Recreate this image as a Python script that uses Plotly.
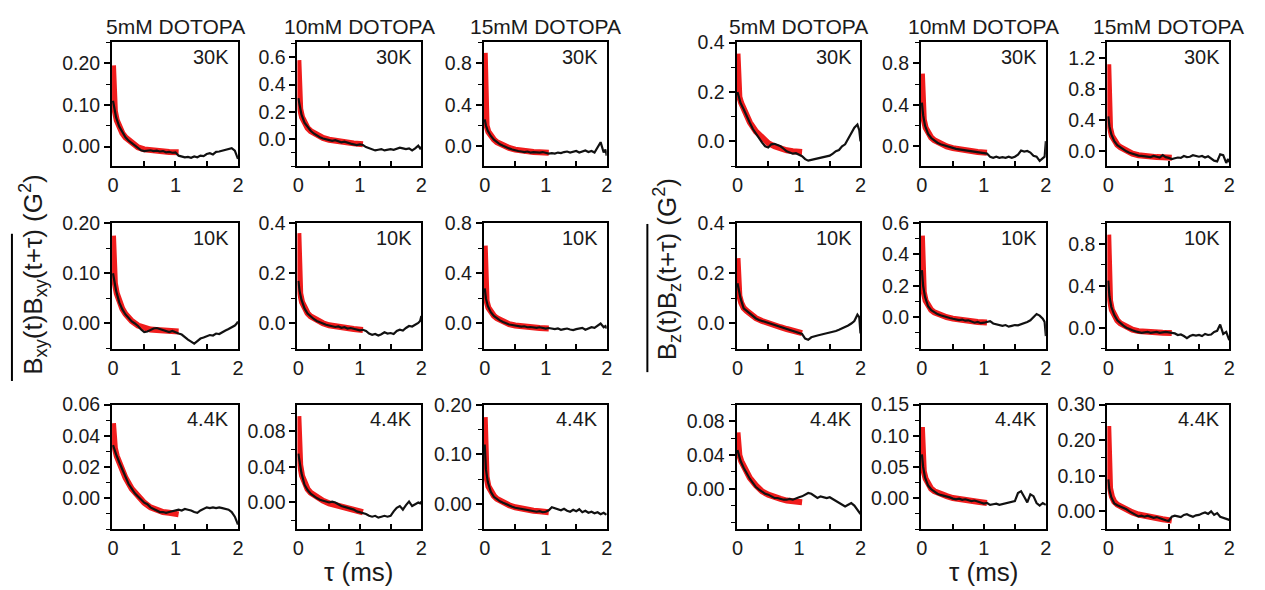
import plotly.graph_objects as go

# ---------------- data ----------------
T_EXP = [0, 0.02, 0.05, 0.1, 0.15, 0.2, 0.25,
         0.3, 0.35, 0.4, 0.45, 0.5, 0.55, 0.6, 0.65, 0.7, 0.75,
         0.8, 0.85, 0.9, 0.95, 1.0, 1.05, 1.1, 1.15, 1.2, 1.25,
         1.3, 1.35, 1.4, 1.45, 1.5, 1.55, 1.6, 1.65, 1.7, 1.75,
         1.8, 1.85, 1.9, 1.95, 1.98, 2.0]
T_FIT = [0, 0.01, 0.03, 0.06, 0.1, 0.15, 0.2, 0.3, 0.4, 0.5, 0.6, 0.7, 0.8, 0.9, 1.05]

CONCENTRATIONS = ["5mM DOTOPA", "10mM DOTOPA", "15mM DOTOPA"]
TEMPERATURES = ["30K", "10K", "4.4K"]
X_TICKS = [0, 1, 2]

# Bxy correlation, measured
BXY_5MM_30K = [0.11, 0.09, 0.07, 0.048, 0.033, 0.022, 0.014,
               0.008, 0.003, -0.004, -0.009, -0.011, -0.01, -0.009, -0.011, -0.01, -0.012,
               -0.011, -0.014, -0.013, -0.015, -0.014, -0.022, -0.024, -0.026, -0.025, -0.027,
               -0.024, -0.026, -0.022, -0.023, -0.018, -0.016, -0.019, -0.013, -0.012, -0.01,
               -0.009, -0.006, -0.004, -0.01, -0.02, -0.03]
BXY_10MM_30K = [0.30, 0.24, 0.18, 0.12, 0.085, 0.06, 0.04,
                0.025, 0.012, 0.003, -0.005, -0.01, -0.015, -0.01, -0.02, -0.025, -0.02,
                -0.03, -0.035, -0.04, -0.045, -0.04, -0.045, -0.06, -0.07, -0.075, -0.085,
                -0.08, -0.075, -0.085, -0.08, -0.075, -0.08, -0.07, -0.065, -0.07, -0.075,
                -0.07, -0.085, -0.07, -0.05, -0.07, -0.06]
BXY_15MM_30K = [0.26, 0.2, 0.15, 0.1, 0.065, 0.04, 0.02,
                0.005, -0.01, -0.02, -0.03, -0.04, -0.045, -0.05, -0.055, -0.05, -0.06,
                -0.055, -0.06, -0.06, -0.055, -0.06, -0.07, -0.065, -0.07, -0.06, -0.065,
                -0.055, -0.05, -0.06, -0.05, -0.045, -0.06, -0.05, -0.04, -0.055, -0.045,
                -0.06, -0.01, 0.04, -0.06, -0.03, -0.09]
BXY_5MM_10K = [0.10, 0.085, 0.065, 0.042, 0.028, 0.018, 0.01,
               0.004, 0.0, -0.005, -0.012, -0.017, -0.016, -0.013, -0.01, -0.009, -0.011,
               -0.013, -0.016, -0.017, -0.015, -0.018, -0.02, -0.022, -0.028, -0.032, -0.036,
               -0.04, -0.035, -0.03, -0.028, -0.025, -0.023, -0.024, -0.02, -0.021, -0.017,
               -0.014, -0.011, -0.008, -0.004, 0.0, 0.004]
BXY_10MM_10K = [0.17, 0.13, 0.095, 0.06, 0.04, 0.027, 0.018,
                0.01, 0.004, 0.0, -0.005, -0.008, -0.01, -0.014, -0.012, -0.017, -0.015,
                -0.02, -0.018, -0.022, -0.025, -0.027, -0.025, -0.03, -0.04, -0.045, -0.042,
                -0.048, -0.043, -0.035, -0.04, -0.038, -0.042, -0.03, -0.025, -0.028, -0.018,
                -0.01, -0.012, -0.005, 0.002, 0.01, 0.03]
BXY_15MM_10K = [0.28, 0.2, 0.14, 0.09, 0.06, 0.04, 0.025,
                0.012, 0.0, -0.008, -0.012, -0.016, -0.02, -0.025, -0.022, -0.03, -0.028,
                -0.032, -0.035, -0.03, -0.038, -0.04, -0.036, -0.04, -0.045, -0.04, -0.05,
                -0.045, -0.04, -0.048, -0.052, -0.045, -0.04, -0.035, -0.05, -0.04, -0.03,
                -0.035, -0.02, 0.0, -0.03, -0.02, -0.04]
BXY_5MM_4K = [0.034, 0.031, 0.028, 0.023, 0.018, 0.013, 0.009,
              0.006, 0.003, 0.001, -0.001, -0.003, -0.004, -0.006, -0.007, -0.008, -0.009,
              -0.009, -0.0095, -0.009, -0.0085, -0.008, -0.0075, -0.008, -0.007, -0.0075, -0.008,
              -0.009, -0.0095, -0.008, -0.007, -0.006, -0.0065, -0.006, -0.0065, -0.006, -0.0065,
              -0.007, -0.0075, -0.009, -0.012, -0.015, -0.017]
BXY_10MM_4K = [0.055, 0.045, 0.033, 0.02, 0.014, 0.01, 0.007,
               0.005, 0.003, 0.002, 0.001, 0.0, 0.001, 0.0, -0.002, -0.004, -0.005,
               -0.006, -0.007, -0.008, -0.01, -0.011, -0.012, -0.013, -0.015, -0.016, -0.015,
               -0.017, -0.016, -0.015, -0.016, -0.015, -0.01, -0.006, -0.004, -0.008, -0.003,
               0.001, -0.004, -0.002, 0.0, -0.001, 0.001]
BXY_15MM_4K = [0.12, 0.07, 0.045, 0.025, 0.015, 0.01, 0.006,
               0.003, 0.0, -0.003, -0.005, -0.007, -0.008, -0.01, -0.011, -0.012, -0.013,
               -0.014, -0.015, -0.014, -0.016, -0.015, -0.012, -0.006, -0.008, -0.01, -0.012,
               -0.009, -0.013, -0.015, -0.011, -0.014, -0.01, -0.016, -0.013, -0.017, -0.015,
               -0.018, -0.016, -0.02, -0.017, -0.02, -0.019]

# Bxy correlation, fits
FIT_BXY_5MM_30K = [0.195, 0.12, 0.085, 0.063, 0.047, 0.032, 0.022, 0.008, -0.002, -0.007, -0.009, -0.011, -0.012, -0.013, -0.014]
FIT_BXY_10MM_30K = [0.58, 0.33, 0.22, 0.16, 0.115, 0.08, 0.058, 0.027, 0.007, -0.006, -0.015, -0.022, -0.028, -0.033, -0.04]
FIT_BXY_15MM_30K = [0.9, 0.35, 0.2, 0.14, 0.1, 0.065, 0.04, 0.008, -0.015, -0.032, -0.043, -0.05, -0.055, -0.058, -0.062]
FIT_BXY_5MM_10K = [0.175, 0.11, 0.08, 0.06, 0.043, 0.029, 0.019, 0.005, -0.004, -0.009, -0.012, -0.013, -0.014, -0.015, -0.016]
FIT_BXY_10MM_10K = [0.36, 0.19, 0.12, 0.085, 0.06, 0.041, 0.028, 0.011, 0.001, -0.007, -0.012, -0.016, -0.019, -0.022, -0.026]
FIT_BXY_15MM_10K = [0.62, 0.3, 0.18, 0.125, 0.09, 0.062, 0.042, 0.013, -0.005, -0.016, -0.024, -0.029, -0.033, -0.036, -0.04]
FIT_BXY_5MM_4K = [0.048, 0.037, 0.032, 0.027, 0.023, 0.018, 0.013, 0.006, 0.001, -0.003, -0.006, -0.008, -0.009, -0.0095, -0.0105]
FIT_BXY_10MM_4K = [0.097, 0.06, 0.042, 0.03, 0.021, 0.015, 0.011, 0.006, 0.002, -0.001, -0.003, -0.005, -0.007, -0.009, -0.011]
FIT_BXY_15MM_4K = [0.175, 0.09, 0.055, 0.036, 0.025, 0.017, 0.011, 0.004, -0.002, -0.006, -0.009, -0.011, -0.013, -0.014, -0.016]

# Bz correlation, measured
BZ_5MM_30K = [0.2, 0.18, 0.155, 0.13, 0.1, 0.075, 0.05,
              0.03, 0.01, -0.005, -0.02, -0.025, -0.012, -0.01, -0.015, -0.02, -0.03,
              -0.04, -0.045, -0.05, -0.048, -0.055, -0.06, -0.072, -0.078, -0.075, -0.072,
              -0.07, -0.068, -0.065, -0.06, -0.058, -0.05, -0.04, -0.035, -0.02, -0.012,
              0.012, 0.03, 0.055, 0.068, 0.045, 0.0]
BZ_10MM_30K = [0.42, 0.3, 0.2, 0.12, 0.08, 0.055, 0.035,
               0.02, 0.01, 0.0, -0.01, -0.02, -0.025, -0.03, -0.035, -0.04, -0.045,
               -0.05, -0.055, -0.06, -0.06, -0.065, -0.07, -0.1, -0.11, -0.1, -0.11,
               -0.105, -0.11, -0.1, -0.11, -0.1, -0.08, -0.04, -0.05, -0.045, -0.06,
               -0.09, -0.1, -0.14, -0.12, -0.1, 0.05]
BZ_15MM_30K = [0.45, 0.32, 0.22, 0.13, 0.08, 0.05, 0.02,
               0.0, -0.02, -0.035, -0.045, -0.055, -0.06, -0.065, -0.07, -0.075, -0.06,
               -0.07, -0.08, -0.05, -0.075, -0.085, -0.1, -0.09, -0.08, -0.085, -0.06,
               -0.075, -0.07, -0.05, -0.06, -0.07, -0.06, -0.08, -0.065, -0.09, -0.12,
               -0.13, -0.04, -0.05, -0.15, -0.1, -0.14]
BZ_5MM_10K = [0.16, 0.13, 0.1, 0.06, 0.05, 0.04, 0.03,
              0.02, 0.014, 0.01, 0.005, 0.0, -0.003, -0.007, -0.01, -0.015, -0.017,
              -0.022, -0.026, -0.03, -0.034, -0.038, -0.042, -0.06, -0.065, -0.055, -0.05,
              -0.048, -0.045, -0.042, -0.04, -0.035, -0.033, -0.03, -0.025, -0.02, -0.014,
              -0.008, 0.0, 0.01, 0.035, 0.025, -0.04]
BZ_10MM_10K = [0.3, 0.2, 0.13, 0.07, 0.045, 0.03, 0.02,
               0.012, 0.005, 0.0, -0.005, -0.01, -0.012, -0.018, -0.015, -0.022, -0.02,
               -0.03, -0.035, -0.03, -0.038, -0.035, -0.03, -0.025, -0.04, -0.045, -0.05,
               -0.055, -0.05, -0.06, -0.055, -0.05, -0.052, -0.045, -0.04, -0.03, -0.02,
               0.0, 0.02, 0.01, -0.01, -0.03, -0.12]
BZ_15MM_10K = [0.45, 0.3, 0.2, 0.12, 0.07, 0.04, 0.02,
               0.0, -0.015, -0.025, -0.035, -0.045, -0.05, -0.045, -0.04, -0.05, -0.045,
               -0.04, -0.05, -0.045, -0.04, -0.045, -0.05, -0.055, -0.07, -0.065, -0.08,
               -0.1, -0.08, -0.07, -0.075, -0.07, -0.08, -0.06, -0.07, -0.065, -0.04,
               -0.03, 0.03, -0.06, -0.04, -0.08, -0.12]
BZ_5MM_4K = [0.046, 0.04, 0.033, 0.025, 0.018, 0.012, 0.007,
             0.002, -0.001, -0.004, -0.006, -0.007, -0.009, -0.011, -0.011, -0.012, -0.013,
             -0.013, -0.012, -0.013, -0.011, -0.01, -0.009, -0.007, -0.005, -0.006, -0.008,
             -0.011, -0.009, -0.01, -0.011, -0.01, -0.012, -0.014, -0.016, -0.018, -0.021,
             -0.019, -0.017, -0.02, -0.025, -0.028, -0.03]
BZ_10MM_4K = [0.07, 0.05, 0.033, 0.02, 0.014, 0.01, 0.007,
              0.005, 0.004, 0.003, 0.001, -0.001, -0.002, -0.001, -0.003, -0.002, -0.004,
              -0.005, -0.004, -0.006, -0.007, -0.009, -0.008, -0.011, -0.01, -0.009, -0.011,
              -0.01, -0.009, -0.008, -0.007, -0.005, 0.008, 0.011, 0.002, -0.007, 0.006,
              0.003, -0.008, -0.012, -0.008, -0.01, -0.011]
BZ_15MM_4K = [0.09, 0.06, 0.04, 0.022, 0.017, 0.014, 0.01,
              0.006, 0.0, -0.004, -0.008, -0.014, -0.012, -0.015, -0.012, -0.014, -0.018,
              -0.016, -0.02, -0.022, -0.025, -0.027, -0.015, -0.012, -0.014, -0.016, -0.01,
              -0.008, -0.012, -0.015, -0.011, -0.01, -0.006, -0.003, -0.007, 0.0, -0.01,
              -0.005, -0.015, -0.018, -0.02, -0.022, -0.024]

# Bz correlation, fits
FIT_BZ_5MM_30K = [0.355, 0.215, 0.18, 0.155, 0.128, 0.1, 0.077, 0.04, 0.012, -0.007, -0.02, -0.03, -0.036, -0.04, -0.043]
FIT_BZ_10MM_30K = [0.70, 0.4, 0.26, 0.18, 0.125, 0.085, 0.058, 0.022, 0.0, -0.017, -0.03, -0.04, -0.048, -0.055, -0.062]
FIT_BZ_15MM_30K = [1.12, 0.5, 0.3, 0.2, 0.13, 0.085, 0.052, 0.005, -0.03, -0.05, -0.062, -0.07, -0.075, -0.078, -0.082]
FIT_BZ_5MM_10K = [0.26, 0.15, 0.11, 0.083, 0.062, 0.05, 0.04, 0.021, 0.01, 0.0, -0.008, -0.015, -0.022, -0.029, -0.038]
FIT_BZ_10MM_10K = [0.52, 0.26, 0.16, 0.105, 0.07, 0.046, 0.031, 0.012, 0.0, -0.009, -0.016, -0.022, -0.026, -0.03, -0.034]
FIT_BZ_15MM_10K = [0.89, 0.42, 0.26, 0.17, 0.11, 0.07, 0.042, 0.003, -0.02, -0.033, -0.04, -0.044, -0.047, -0.049, -0.051]
FIT_BZ_5MM_4K = [0.067, 0.048, 0.04, 0.033, 0.026, 0.019, 0.013, 0.004, -0.003, -0.007, -0.01, -0.012, -0.014, -0.015, -0.016]
FIT_BZ_10MM_4K = [0.114, 0.065, 0.043, 0.031, 0.021, 0.015, 0.011, 0.006, 0.003, 0.0, -0.002, -0.004, -0.005, -0.006, -0.008]
FIT_BZ_15MM_4K = [0.24, 0.11, 0.065, 0.042, 0.027, 0.019, 0.014, 0.005, -0.003, -0.009, -0.013, -0.016, -0.019, -0.022, -0.026]

# ---------------- panel layout (group, row, col, measured, fit, y-range, major step, format) ----------------
PANELS = [
    (0, 0, 0, BXY_5MM_30K, FIT_BXY_5MM_30K, [-0.047, 0.25], 0.1, ".2f"),
    (0, 0, 1, BXY_10MM_30K, FIT_BXY_10MM_30K, [-0.2, 0.71], 0.2, ".1f"),
    (0, 0, 2, BXY_15MM_30K, FIT_BXY_15MM_30K, [-0.19, 1.0], 0.4, ".1f"),
    (0, 1, 0, BXY_5MM_10K, FIT_BXY_5MM_10K, [-0.05, 0.2], 0.1, ".2f"),
    (0, 1, 1, BXY_10MM_10K, FIT_BXY_10MM_10K, [-0.1, 0.4], 0.2, ".1f"),
    (0, 1, 2, BXY_15MM_10K, FIT_BXY_15MM_10K, [-0.2, 0.8], 0.4, ".1f"),
    (0, 2, 0, BXY_5MM_4K, FIT_BXY_5MM_4K, [-0.02, 0.06], 0.02, ".2f"),
    (0, 2, 1, BXY_10MM_4K, FIT_BXY_10MM_4K, [-0.03, 0.11], 0.04, ".2f"),
    (0, 2, 2, BXY_15MM_4K, FIT_BXY_15MM_4K, [-0.05, 0.2], 0.1, ".2f"),
    (1, 0, 0, BZ_5MM_30K, FIT_BZ_5MM_30K, [-0.1, 0.4], 0.2, ".1f"),
    (1, 0, 1, BZ_10MM_30K, FIT_BZ_10MM_30K, [-0.19, 1.0], 0.4, ".1f"),
    (1, 0, 2, BZ_15MM_30K, FIT_BZ_15MM_30K, [-0.19, 1.4], 0.4, ".1f"),
    (1, 1, 0, BZ_5MM_10K, FIT_BZ_5MM_10K, [-0.1, 0.4], 0.2, ".1f"),
    (1, 1, 1, BZ_10MM_10K, FIT_BZ_10MM_10K, [-0.2, 0.6], 0.2, ".1f"),
    (1, 1, 2, BZ_15MM_10K, FIT_BZ_15MM_10K, [-0.2, 1.0], 0.4, ".1f"),
    (1, 2, 0, BZ_5MM_4K, FIT_BZ_5MM_4K, [-0.048, 0.1], 0.04, ".2f"),
    (1, 2, 1, BZ_10MM_4K, FIT_BZ_10MM_4K, [-0.05, 0.15], 0.05, ".2f"),
    (1, 2, 2, BZ_15MM_4K, FIT_BZ_15MM_4K, [-0.05, 0.3], 0.1, ".2f"),
]

W, H = 1265, 590
COL_PX = [[(108, 235), (295, 420), (483, 607)],
          [(738, 863), (924, 1050), (1112, 1235)]]
ROW_PX = [(32, 158), (216, 344), (401, 528)]

FONT = "Liberation Sans, Arial, sans-serif"
TXT = "#1a1a1a"

fig = go.Figure()
layout = {}
annotations = []
shapes = []

for i, (g, r, c, meas, fit, yr, step, fmt) in enumerate(PANELS, start=1):
    xs = "" if i == 1 else str(i)
    xl, xr = COL_PX[g][c]
    yt, yb = ROW_PX[r]
    fig.add_trace(go.Scatter(x=T_FIT, y=fit, mode="lines", line=dict(color="#f01c1c", width=6),
                             xaxis="x" + xs, yaxis="y" + xs, showlegend=False, hoverinfo="skip"))
    fig.add_trace(go.Scatter(x=T_EXP, y=meas, mode="lines", line=dict(color="#111111", width=2.2),
                             xaxis="x" + xs, yaxis="y" + xs, showlegend=False))
    n = int(round(yr[1] / step + 1e-6))
    tv = [round(k * step, 6) for k in range(0, n + 1) if k * step <= yr[1] + 1e-9]
    layout["xaxis" + xs] = dict(
        domain=[xl / W, xr / W], anchor="y" + xs, range=[-0.015, 2.0],
        showline=True, linecolor="black", linewidth=2, mirror=True,
        ticks="inside", ticklen=5, tickwidth=1.5, tickcolor="black",
        tickvals=X_TICKS, ticktext=[str(v) for v in X_TICKS],
        minor=dict(tickvals=[0.5, 1.5], ticks="inside", ticklen=5, tickwidth=1.5, tickcolor="black"),
        showgrid=False, zeroline=False, tickfont=dict(family=FONT, size=20, color=TXT),
    )
    layout["yaxis" + xs] = dict(
        domain=[1 - yb / H, 1 - yt / H], anchor="x" + xs, range=[yr[0], yr[1] + step * 0.003],
        showline=True, linecolor="black", linewidth=2, mirror=True,
        ticks="outside", ticklen=6, tickwidth=1.5, tickcolor="black",
        tickmode="array", tickvals=tv, tickformat=fmt,
        minor=dict(dtick=step / 2, tick0=0, ticks="outside", ticklen=4, tickwidth=1.2, tickcolor="black"),
        showgrid=False, zeroline=False, tickfont=dict(family=FONT, size=19.5, color=TXT),
    )
    annotations.append(dict(x=(xr - 7) / W, y=1 - (yt + 15) / H, xref="paper", yref="paper",
                            text=TEMPERATURES[r], showarrow=False, xanchor="right", yanchor="middle",
                            font=dict(family=FONT, size=20, color=TXT)))
    if r == 0:
        annotations.append(dict(x=(xl + xr) / 2 / W, y=1 - 16 / H, xref="paper", yref="paper",
                                text=CONCENTRATIONS[c], showarrow=False, xanchor="center", yanchor="middle",
                                font=dict(family=FONT, size=21, color=TXT)))

# axis titles
for gx in (357, 987):
    annotations.append(dict(x=gx / W, y=1 - 572 / H, xref="paper", yref="paper", text="τ (ms)",
                            showarrow=False, xanchor="center", yanchor="middle",
                            font=dict(family=FONT, size=26, color=TXT)))
annotations.append(dict(x=28 / W, y=1 - 268 / H, xref="paper", yref="paper", textangle=-90,
                        text="B<sub>xy</sub>(t)B<sub>xy</sub>(t+τ) (G<sup>2</sup>)",
                        showarrow=False, xanchor="center", yanchor="middle",
                        font=dict(family=FONT, size=26, color=TXT)))
annotations.append(dict(x=668 / W, y=1 - 263 / H, xref="paper", yref="paper", textangle=-90,
                        text="B<sub>z</sub>(t)B<sub>z</sub>(t+τ) (G<sup>2</sup>)",
                        showarrow=False, xanchor="center", yanchor="middle",
                        font=dict(family=FONT, size=26, color=TXT)))
shapes.append(dict(type="line", xref="paper", yref="paper", x0=7 / W, x1=7 / W,
                   y0=1 - 227 / H, y1=1 - 377 / H, line=dict(color="black", width=2)))
shapes.append(dict(type="line", xref="paper", yref="paper", x0=648 / W, x1=648 / W,
                   y0=1 - 217 / H, y1=1 - 368 / H, line=dict(color="black", width=2)))

fig.update_layout(width=W, height=H, margin=dict(l=0, r=0, t=0, b=0),
                  paper_bgcolor="white", plot_bgcolor="white",
                  annotations=annotations, shapes=shapes, **layout)
fig.write_html("out.html")
